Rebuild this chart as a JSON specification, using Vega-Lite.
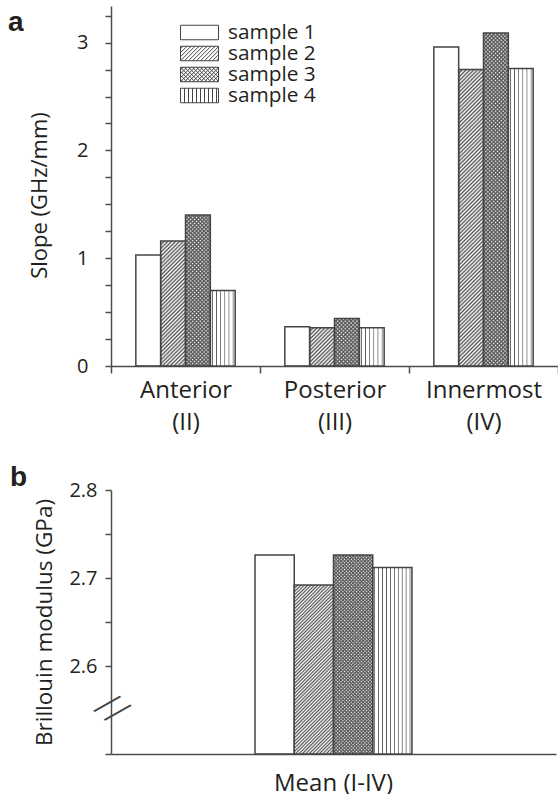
{
"$schema":"https://vega.github.io/schema/vega-lite/v6.json",
"background":"white",
"padding":{"left":8,"top":6,"right":0,"bottom":0},
"spacing":30,
"resolve":{"scale":{"x":"independent","xOffset":"independent"}},
"params":[{"name":"hs","value":[
{"offset":0,"color":"#555"},{"offset":0.005,"color":"#5550"},{"offset":0.01,"color":"#555"},{"offset":0.015,"color":"#5550"},{"offset":0.02,"color":"#555"},{"offset":0.025,"color":"#5550"},{"offset":0.03,"color":"#555"},{"offset":0.035,"color":"#5550"},{"offset":0.04,"color":"#555"},{"offset":0.045,"color":"#5550"},
{"offset":0.05,"color":"#555"},{"offset":0.055,"color":"#5550"},{"offset":0.06,"color":"#555"},{"offset":0.065,"color":"#5550"},{"offset":0.07,"color":"#555"},{"offset":0.075,"color":"#5550"},{"offset":0.08,"color":"#555"},{"offset":0.085,"color":"#5550"},{"offset":0.09,"color":"#555"},{"offset":0.095,"color":"#5550"},
{"offset":0.1,"color":"#555"},{"offset":0.105,"color":"#5550"},{"offset":0.11,"color":"#555"},{"offset":0.115,"color":"#5550"},{"offset":0.12,"color":"#555"},{"offset":0.125,"color":"#5550"},{"offset":0.13,"color":"#555"},{"offset":0.135,"color":"#5550"},{"offset":0.14,"color":"#555"},{"offset":0.145,"color":"#5550"},
{"offset":0.15,"color":"#555"},{"offset":0.155,"color":"#5550"},{"offset":0.16,"color":"#555"},{"offset":0.165,"color":"#5550"},{"offset":0.17,"color":"#555"},{"offset":0.175,"color":"#5550"},{"offset":0.18,"color":"#555"},{"offset":0.185,"color":"#5550"},{"offset":0.19,"color":"#555"},{"offset":0.195,"color":"#5550"},
{"offset":0.2,"color":"#555"},{"offset":0.205,"color":"#5550"},{"offset":0.21,"color":"#555"},{"offset":0.215,"color":"#5550"},{"offset":0.22,"color":"#555"},{"offset":0.225,"color":"#5550"},{"offset":0.23,"color":"#555"},{"offset":0.235,"color":"#5550"},{"offset":0.24,"color":"#555"},{"offset":0.245,"color":"#5550"},
{"offset":0.25,"color":"#555"},{"offset":0.255,"color":"#5550"},{"offset":0.26,"color":"#555"},{"offset":0.265,"color":"#5550"},{"offset":0.27,"color":"#555"},{"offset":0.275,"color":"#5550"},{"offset":0.28,"color":"#555"},{"offset":0.285,"color":"#5550"},{"offset":0.29,"color":"#555"},{"offset":0.295,"color":"#5550"},
{"offset":0.3,"color":"#555"},{"offset":0.305,"color":"#5550"},{"offset":0.31,"color":"#555"},{"offset":0.315,"color":"#5550"},{"offset":0.32,"color":"#555"},{"offset":0.325,"color":"#5550"},{"offset":0.33,"color":"#555"},{"offset":0.335,"color":"#5550"},{"offset":0.34,"color":"#555"},{"offset":0.345,"color":"#5550"},
{"offset":0.35,"color":"#555"},{"offset":0.355,"color":"#5550"},{"offset":0.36,"color":"#555"},{"offset":0.365,"color":"#5550"},{"offset":0.37,"color":"#555"},{"offset":0.375,"color":"#5550"},{"offset":0.38,"color":"#555"},{"offset":0.385,"color":"#5550"},{"offset":0.39,"color":"#555"},{"offset":0.395,"color":"#5550"},
{"offset":0.4,"color":"#555"},{"offset":0.405,"color":"#5550"},{"offset":0.41,"color":"#555"},{"offset":0.415,"color":"#5550"},{"offset":0.42,"color":"#555"},{"offset":0.425,"color":"#5550"},{"offset":0.43,"color":"#555"},{"offset":0.435,"color":"#5550"},{"offset":0.44,"color":"#555"},{"offset":0.445,"color":"#5550"},
{"offset":0.45,"color":"#555"},{"offset":0.455,"color":"#5550"},{"offset":0.46,"color":"#555"},{"offset":0.465,"color":"#5550"},{"offset":0.47,"color":"#555"},{"offset":0.475,"color":"#5550"},{"offset":0.48,"color":"#555"},{"offset":0.485,"color":"#5550"},{"offset":0.49,"color":"#555"},{"offset":0.495,"color":"#5550"},
{"offset":0.5,"color":"#555"},{"offset":0.505,"color":"#5550"},{"offset":0.51,"color":"#555"},{"offset":0.515,"color":"#5550"},{"offset":0.52,"color":"#555"},{"offset":0.525,"color":"#5550"},{"offset":0.53,"color":"#555"},{"offset":0.535,"color":"#5550"},{"offset":0.54,"color":"#555"},{"offset":0.545,"color":"#5550"},
{"offset":0.55,"color":"#555"},{"offset":0.555,"color":"#5550"},{"offset":0.56,"color":"#555"},{"offset":0.565,"color":"#5550"},{"offset":0.57,"color":"#555"},{"offset":0.575,"color":"#5550"},{"offset":0.58,"color":"#555"},{"offset":0.585,"color":"#5550"},{"offset":0.59,"color":"#555"},{"offset":0.595,"color":"#5550"},
{"offset":0.6,"color":"#555"},{"offset":0.605,"color":"#5550"},{"offset":0.61,"color":"#555"},{"offset":0.615,"color":"#5550"},{"offset":0.62,"color":"#555"},{"offset":0.625,"color":"#5550"},{"offset":0.63,"color":"#555"},{"offset":0.635,"color":"#5550"},{"offset":0.64,"color":"#555"},{"offset":0.645,"color":"#5550"},
{"offset":0.65,"color":"#555"},{"offset":0.655,"color":"#5550"},{"offset":0.66,"color":"#555"},{"offset":0.665,"color":"#5550"},{"offset":0.67,"color":"#555"},{"offset":0.675,"color":"#5550"},{"offset":0.68,"color":"#555"},{"offset":0.685,"color":"#5550"},{"offset":0.69,"color":"#555"},{"offset":0.695,"color":"#5550"},
{"offset":0.7,"color":"#555"},{"offset":0.705,"color":"#5550"},{"offset":0.71,"color":"#555"},{"offset":0.715,"color":"#5550"},{"offset":0.72,"color":"#555"},{"offset":0.725,"color":"#5550"},{"offset":0.73,"color":"#555"},{"offset":0.735,"color":"#5550"},{"offset":0.74,"color":"#555"},{"offset":0.745,"color":"#5550"},
{"offset":0.75,"color":"#555"},{"offset":0.755,"color":"#5550"},{"offset":0.76,"color":"#555"},{"offset":0.765,"color":"#5550"},{"offset":0.77,"color":"#555"},{"offset":0.775,"color":"#5550"},{"offset":0.78,"color":"#555"},{"offset":0.785,"color":"#5550"},{"offset":0.79,"color":"#555"},{"offset":0.795,"color":"#5550"},
{"offset":0.8,"color":"#555"},{"offset":0.805,"color":"#5550"},{"offset":0.81,"color":"#555"},{"offset":0.815,"color":"#5550"},{"offset":0.82,"color":"#555"},{"offset":0.825,"color":"#5550"},{"offset":0.83,"color":"#555"},{"offset":0.835,"color":"#5550"},{"offset":0.84,"color":"#555"},{"offset":0.845,"color":"#5550"},
{"offset":0.85,"color":"#555"},{"offset":0.855,"color":"#5550"},{"offset":0.86,"color":"#555"},{"offset":0.865,"color":"#5550"},{"offset":0.87,"color":"#555"},{"offset":0.875,"color":"#5550"},{"offset":0.88,"color":"#555"},{"offset":0.885,"color":"#5550"},{"offset":0.89,"color":"#555"},{"offset":0.895,"color":"#5550"},
{"offset":0.9,"color":"#555"},{"offset":0.905,"color":"#5550"},{"offset":0.91,"color":"#555"},{"offset":0.915,"color":"#5550"},{"offset":0.92,"color":"#555"},{"offset":0.925,"color":"#5550"},{"offset":0.93,"color":"#555"},{"offset":0.935,"color":"#5550"},{"offset":0.94,"color":"#555"},{"offset":0.945,"color":"#5550"},
{"offset":0.95,"color":"#555"},{"offset":0.955,"color":"#5550"},{"offset":0.96,"color":"#555"},{"offset":0.965,"color":"#5550"},{"offset":0.97,"color":"#555"},{"offset":0.975,"color":"#5550"},{"offset":0.98,"color":"#555"},{"offset":0.985,"color":"#5550"},{"offset":0.99,"color":"#555"},{"offset":0.995,"color":"#5550"},
{"offset":1,"color":"#555"}
]}],
"datasets":{
"slope":[
{"region":"Anterior","sample":"sample 1","value":1.03},
{"region":"Anterior","sample":"sample 2","value":1.16},
{"region":"Anterior","sample":"sample 3","value":1.40},
{"region":"Anterior","sample":"sample 4","value":0.70},
{"region":"Posterior","sample":"sample 1","value":0.365},
{"region":"Posterior","sample":"sample 2","value":0.355},
{"region":"Posterior","sample":"sample 3","value":0.44},
{"region":"Posterior","sample":"sample 4","value":0.355},
{"region":"Innermost","sample":"sample 1","value":2.96},
{"region":"Innermost","sample":"sample 2","value":2.75},
{"region":"Innermost","sample":"sample 3","value":3.09},
{"region":"Innermost","sample":"sample 4","value":2.76}
],
"modulus":[
{"region":"Mean (I-IV)","sample":"sample 1","value":2.726},
{"region":"Mean (I-IV)","sample":"sample 2","value":2.692},
{"region":"Mean (I-IV)","sample":"sample 3","value":2.726},
{"region":"Mean (I-IV)","sample":"sample 4","value":2.712}
]
},
"config":{
"font":"Open Sans",
"view":{"stroke":null},
"axis":{"grid":false,"domainColor":"#4d4d4d","domainWidth":1.5,"tickColor":"#4d4d4d","tickWidth":1.5,"labelColor":"#231f20","titleColor":"#231f20","titleFontWeight":"normal","labelFont":"Open Sans","titleFont":"Open Sans"},
"title":{"font":"Liberation Sans","fontWeight":"bold","fontSize":28,"color":"#231f20","anchor":"start","frame":"group","offset":0,"baseline":"alphabetic"}
},
"vconcat":[
{
"title":{"text":"a","dx":-103,"dy":35},
"width":447,"height":360,
"data":{"name":"slope"},
"resolve":{"axis":{"y":"independent"}},
"encoding":{
"x":{"field":"region","type":"nominal","sort":["Anterior","Posterior","Innermost"],"scale":{"paddingInner":0,"paddingOuter":0},
"axis":{"title":null,"labelAngle":0,"tickBand":"extent","tickSize":7,"labelFontSize":24,"labelLineHeight":32,"labelPadding":5,
"labelExpr":"datum.label == 'Anterior' ? ['Anterior','(II)'] : datum.label == 'Posterior' ? ['Posterior','(III)'] : datum.label == 'Innermost' ? ['Innermost','(IV)'] : ''"}},
"xOffset":{"field":"sample","type":"nominal","sort":["sample 1","sample 2","sample 3","sample 4"],"scale":{"paddingInner":0,"paddingOuter":1}}
},
"layer":[
{"transform":[{"filter":"datum.sample == 'sample 2' || datum.sample == 'sample 3'"}],
"mark":{"type":"bar","strokeWidth":0,"fill":{"expr":"{gradient:'linear',x1:0,y1:0,x2:384*24.83/(616.5+pow(datum.value*107.784,2)),y2:384*datum.value*107.784/(616.5+pow(datum.value*107.784,2)),stops:hs}"}},
"encoding":{"y":{"field":"value","type":"quantitative","scale":{"domain":[0,3.34],"nice":false},"axis":null}}},
{"transform":[{"filter":"datum.sample == 'sample 3'"}],
"mark":{"type":"bar","strokeWidth":0,"fill":{"expr":"{gradient:'linear',x1:0,y1:1,x2:384*24.83/(616.5+pow(datum.value*107.784,2)),y2:1-384*datum.value*107.784/(616.5+pow(datum.value*107.784,2)),stops:hs}"}},
"encoding":{"y":{"field":"value","type":"quantitative","scale":{"domain":[0,3.34],"nice":false},"axis":null}}},
{"transform":[{"filter":"datum.sample == 'sample 4'"}],
"mark":{"type":"bar","strokeWidth":0,"fill":{"gradient":"linear","x1":0,"y1":0,"x2":1,"y2":0,"stops":[
{"offset":0.053,"color":"#fff"},{"offset":0.083,"color":"#555"},{"offset":0.113,"color":"#fff"},
{"offset":0.22,"color":"#fff"},{"offset":0.25,"color":"#555"},{"offset":0.28,"color":"#fff"},
{"offset":0.387,"color":"#fff"},{"offset":0.417,"color":"#555"},{"offset":0.447,"color":"#fff"},
{"offset":0.553,"color":"#fff"},{"offset":0.583,"color":"#555"},{"offset":0.613,"color":"#fff"},
{"offset":0.72,"color":"#fff"},{"offset":0.75,"color":"#555"},{"offset":0.78,"color":"#fff"},
{"offset":0.887,"color":"#fff"},{"offset":0.917,"color":"#555"},{"offset":0.947,"color":"#fff"}]}},
"encoding":{"y":{"field":"value","type":"quantitative","scale":{"domain":[0,3.34],"nice":false},"axis":null}}},
{"mark":{"type":"bar","fill":"transparent","stroke":"#444","strokeWidth":1.5},
"encoding":{"y":{"field":"value","type":"quantitative","scale":{"domain":[0,3.34],"nice":false},"title":"Slope (GHz/mm)",
"axis":{"orient":"left","values":[0,0.25,0.5,0.75,1,1.25,1.5,1.75,2,2.25,2.5,2.75,3,3.25],"labelExpr":"datum.value % 1 == 0 ? format(datum.value, 'd') : ''","labelFontSize":20,"labelPadding":17,"tickSize":6,"titleFontSize":22,"titlePadding":25,"titleY":189}}}},
{"transform":[{"filter":"false"}],
"mark":{"type":"point","filled":false,"fill":"white","stroke":"#444","strokeWidth":1,"opacity":1},
"encoding":{"y":{"field":"value","type":"quantitative","scale":{"domain":[0,3.34],"nice":false},"axis":null},
"shape":{"field":"sample","type":"nominal","scale":{"domain":["sample 1","sample 2","sample 3","sample 4"],"range":[
"M-2.8,-0.725H1V0.725H-2.8Z",
"M-2.8,-0.725H1V0.725H-2.8ZM-2.8,-0.475L-2.55,-0.725M-2.8,-0.075L-2.15,-0.725M-2.8,0.325L-1.75,-0.725M-2.8,0.725L-1.35,-0.725M-2.4,0.725L-0.95,-0.725M-2,0.725L-0.55,-0.725M-1.6,0.725L-0.15,-0.725M-1.2,0.725L0.25,-0.725M-0.8,0.725L0.65,-0.725M-0.4,0.725L1,-0.675M0,0.725L1,-0.275M0.4,0.725L1,0.125M0.8,0.725L1,0.525",
"M-2.8,-0.725H1V0.725H-2.8ZM-2.8,-0.475L-2.55,-0.725M-2.8,-0.075L-2.15,-0.725M-2.8,0.325L-1.75,-0.725M-2.8,0.725L-1.35,-0.725M-2.4,0.725L-0.95,-0.725M-2,0.725L-0.55,-0.725M-1.6,0.725L-0.15,-0.725M-1.2,0.725L0.25,-0.725M-0.8,0.725L0.65,-0.725M-0.4,0.725L1,-0.675M0,0.725L1,-0.275M0.4,0.725L1,0.125M0.8,0.725L1,0.525M-2.8,0.475L-2.55,0.725M-2.8,0.075L-2.15,0.725M-2.8,-0.325L-1.75,0.725M-2.8,-0.725L-1.35,0.725M-2.4,-0.725L-0.95,0.725M-2,-0.725L-0.55,0.725M-1.6,-0.725L-0.15,0.725M-1.2,-0.725L0.25,0.725M-0.8,-0.725L0.65,0.725M-0.4,-0.725L1,0.675M0,-0.725L1,0.275M0.4,-0.725L1,-0.125M0.8,-0.725L1,-0.525",
"M-2.8,-0.725H1V0.725H-2.8ZM-2.4,-0.725V0.725M-2,-0.725V0.725M-1.6,-0.725V0.725M-1.2,-0.725V0.725M-0.8,-0.725V0.725M-0.4,-0.725V0.725M0,-0.725V0.725M0.4,-0.725V0.725M0.8,-0.725V0.725"
]},
"legend":{"title":null,"orient":"none","legendX":87,"legendY":16,"symbolSize":400,"symbolOpacity":1,"symbolStrokeWidth":1,"labelFontSize":20.8,"labelFont":"Open Sans","labelColor":"#231f20","labelOffset":9,"rowPadding":-1.7,"padding":0,"zindex":1}}}}
]
},
{
"title":{"text":"b","dx":-101,"dy":16},
"width":445,"height":264,
"data":{"name":"modulus"},
"resolve":{"axis":{"x":"independent","y":"independent"}},
"layer":[
{"transform":[{"filter":"datum.sample == 'sample 2' || datum.sample == 'sample 3'"}],
"mark":{"type":"bar","strokeWidth":0,"fill":{"expr":"{gradient:'linear',x1:0,y1:0,x2:340*39.25/(1540.56+pow((datum.value-2.5)*880,2)),y2:340*(datum.value-2.5)*880/(1540.56+pow((datum.value-2.5)*880,2)),stops:hs}"}},
"encoding":{
"x":{"field":"region","type":"nominal","scale":{"paddingInner":0,"paddingOuter":0.445},"axis":null},
"xOffset":{"field":"sample","type":"nominal","sort":["sample 1","sample 2","sample 3","sample 4"],"scale":{"paddingInner":0,"paddingOuter":1}},
"y":{"field":"value","type":"quantitative","scale":{"domain":[2.5,2.8],"nice":false,"zero":false},"axis":null},"y2":{"datum":2.5}}},
{"transform":[{"filter":"datum.sample == 'sample 3'"}],
"mark":{"type":"bar","strokeWidth":0,"fill":{"expr":"{gradient:'linear',x1:0,y1:1,x2:340*39.25/(1540.56+pow((datum.value-2.5)*880,2)),y2:1-340*(datum.value-2.5)*880/(1540.56+pow((datum.value-2.5)*880,2)),stops:hs}"}},
"encoding":{
"x":{"field":"region","type":"nominal","scale":{"paddingInner":0,"paddingOuter":0.445},"axis":null},
"xOffset":{"field":"sample","type":"nominal","sort":["sample 1","sample 2","sample 3","sample 4"],"scale":{"paddingInner":0,"paddingOuter":1}},
"y":{"field":"value","type":"quantitative","scale":{"domain":[2.5,2.8],"nice":false,"zero":false},"axis":null},"y2":{"datum":2.5}}},
{"transform":[{"filter":"datum.sample == 'sample 4'"}],
"mark":{"type":"bar","strokeWidth":0,"fill":{"gradient":"linear","x1":0,"y1":0,"x2":1,"y2":0,"stops":[
{"offset":0.03,"color":"#fff"},{"offset":0.05,"color":"#555"},{"offset":0.07,"color":"#fff"},
{"offset":0.13,"color":"#fff"},{"offset":0.15,"color":"#555"},{"offset":0.17,"color":"#fff"},
{"offset":0.23,"color":"#fff"},{"offset":0.25,"color":"#555"},{"offset":0.27,"color":"#fff"},
{"offset":0.33,"color":"#fff"},{"offset":0.35,"color":"#555"},{"offset":0.37,"color":"#fff"},
{"offset":0.43,"color":"#fff"},{"offset":0.45,"color":"#555"},{"offset":0.47,"color":"#fff"},
{"offset":0.53,"color":"#fff"},{"offset":0.55,"color":"#555"},{"offset":0.57,"color":"#fff"},
{"offset":0.63,"color":"#fff"},{"offset":0.65,"color":"#555"},{"offset":0.67,"color":"#fff"},
{"offset":0.73,"color":"#fff"},{"offset":0.75,"color":"#555"},{"offset":0.77,"color":"#fff"},
{"offset":0.83,"color":"#fff"},{"offset":0.85,"color":"#555"},{"offset":0.87,"color":"#fff"},
{"offset":0.93,"color":"#fff"},{"offset":0.95,"color":"#555"},{"offset":0.97,"color":"#fff"}]}},
"encoding":{
"x":{"field":"region","type":"nominal","scale":{"paddingInner":0,"paddingOuter":0.445},"axis":null},
"xOffset":{"field":"sample","type":"nominal","sort":["sample 1","sample 2","sample 3","sample 4"],"scale":{"paddingInner":0,"paddingOuter":1}},
"y":{"field":"value","type":"quantitative","scale":{"domain":[2.5,2.8],"nice":false,"zero":false},"axis":null},"y2":{"datum":2.5}}},
{"mark":{"type":"bar","fill":"transparent","stroke":"#444","strokeWidth":1.5},
"encoding":{
"x":{"field":"region","type":"nominal","scale":{"paddingInner":0,"paddingOuter":0.445},
"axis":{"orient":"bottom","title":null,"labelAngle":0,"ticks":false,"tickSize":0,"labelFontSize":24,"labelPadding":17}},
"xOffset":{"field":"sample","type":"nominal","sort":["sample 1","sample 2","sample 3","sample 4"],"scale":{"paddingInner":0,"paddingOuter":1}},
"y":{"field":"value","type":"quantitative","scale":{"domain":[2.5,2.8],"nice":false,"zero":false},"title":"Brillouin modulus (GPa)",
"axis":{"orient":"left","values":[2.5,2.6,2.65,2.7,2.75,2.8],
"labelExpr":"(datum.value == 2.6 || datum.value == 2.7 || datum.value == 2.8) ? format(datum.value, '.1f') : ''",
"labelFontSize":20,"labelPadding":8,"tickSize":6,"titleFontSize":22.5,"titlePadding":12}},
"y2":{"datum":2.5}}},
{"transform":[{"filter":"datum.sample == 'sample 1'"}],
"mark":{"type":"text","text":"//","angle":40,"fontSize":40,"fontWeight":300,"font":"Open Sans","color":"#444","align":"center","baseline":"middle"},
"encoding":{
"x":{"field":"region","type":"nominal","scale":{"paddingInner":0,"paddingOuter":0.445},"bandPosition":-0.445,"axis":null},
"y":{"datum":2.55,"type":"quantitative","scale":{"domain":[2.5,2.8],"nice":false,"zero":false},"axis":null}}}
]
}
]
}
